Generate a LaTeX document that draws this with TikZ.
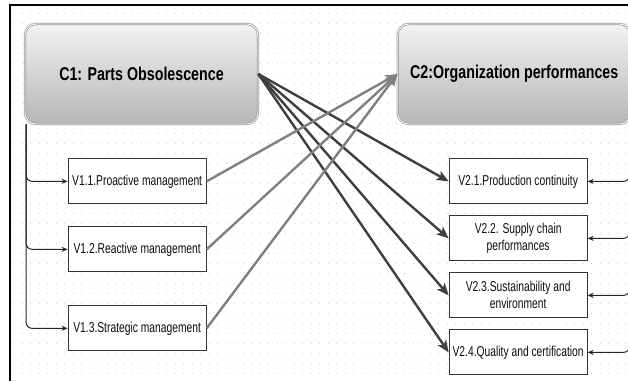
\documentclass[tikz,border=0pt]{standalone}
\usepackage{fontspec}
\newfontfamily\boxfont[FakeStretch=0.72]{Liberation Sans}
\newfontfamily\headfont[FakeStretch=0.77]{Liberation Sans}
\usetikzlibrary{positioning,arrows.meta}
\definecolor{linkdark}{HTML}{3F3F3F}
\definecolor{linkgray}{HTML}{808080}
\definecolor{gridgray}{HTML}{D2D2D2}
\tikzset{flow/.style={x=1pt,y=-1pt,node distance=22pt},
    critbox/.style={draw=gray!80,double=white,double distance=0.8pt,line width=0.7pt,
        rounded corners=11pt,top color=gray!10,bottom color=gray!57,
        minimum width=233pt,minimum height=100pt,
        font=\headfont\bfseries\fontsize{18.5}{20}\selectfont,text=black},
    varbox/.style={draw=black!80,line width=1pt,fill=white,minimum width=138pt,
        minimum height=45pt,inner sep=2pt,align=center,
        font=\boxfont\fontsize{14.3}{17}\selectfont,text=black!95},
    feed/.style={-{Stealth[length=6pt,width=5pt]},line width=1pt,draw=black!85,rounded corners=6pt},
    impact/.style={-{Stealth[length=12pt,width=10pt,inset=3pt]},line width=2.4pt,draw=linkdark},
    support/.style={-{Stealth[length=12pt,width=10pt,inset=3pt]},line width=2.4pt,draw=linkgray}}

\begin{document}
\begin{tikzpicture}[flow]
    \useasboundingbox (0,0) rectangle (628,381);
    \clip (0,0) rectangle (628,381);
    % dotted grid of the canvas
    \foreach \gy in {13,23,...,373}
        \draw[gridgray,line width=1pt,dash pattern=on 1pt off 7.5pt] (13,\gy) -- (628,\gy);
    % window frame
    \draw[line width=2pt] (10,381) -- (10,5) -- (628,5);

    \node[critbox] (c1) at (141.5,74) {C1: Parts Obsolescence};
    \node[critbox,right=139pt of c1] (c2) {C2:Organization performances};

    \node[varbox,below right=34pt and 43pt of c1.south west] (v11) {V1.1.Proactive management};
    \node[varbox,below=22pt of v11] (v12) {V1.2.Reactive management};
    \node[varbox,below=33pt of v12] (v13) {V1.3.Strategic management};

    \node[varbox,right=242pt of v11] (v21) {V2.1.Production continuity};
    \node[varbox,below=11pt of v21] (v22) {V2.2. Supply chain\\performances};
    \node[varbox,below=11pt of v22] (v23) {V2.3.Sustainability and\\environment};
    \node[varbox,below=11pt of v23] (v24) {V2.4.Quality and certification};

    % thin feeds from each criterion down to its variables
    \coordinate (lspine) at ([xshift=1.5pt]c1.south west);
    \coordinate (rspine) at ([xshift=-1.5pt]c2.south east);
    \foreach \target in {v11,v12,v13}
        \draw[feed] (lspine) |- (\target.west);
    \foreach \target in {v21,v22,v23,v24}
        \draw[feed] (rspine) |- (\target.east);

    % cross links
    \foreach \target in {v21,v22,v23,v24}
        \draw[impact] (c1.east) -- (\target.west);
    \foreach \target in {v11,v12,v13}
        \draw[support] (\target.east) -- (c2.west);
\end{tikzpicture}
\end{document}
